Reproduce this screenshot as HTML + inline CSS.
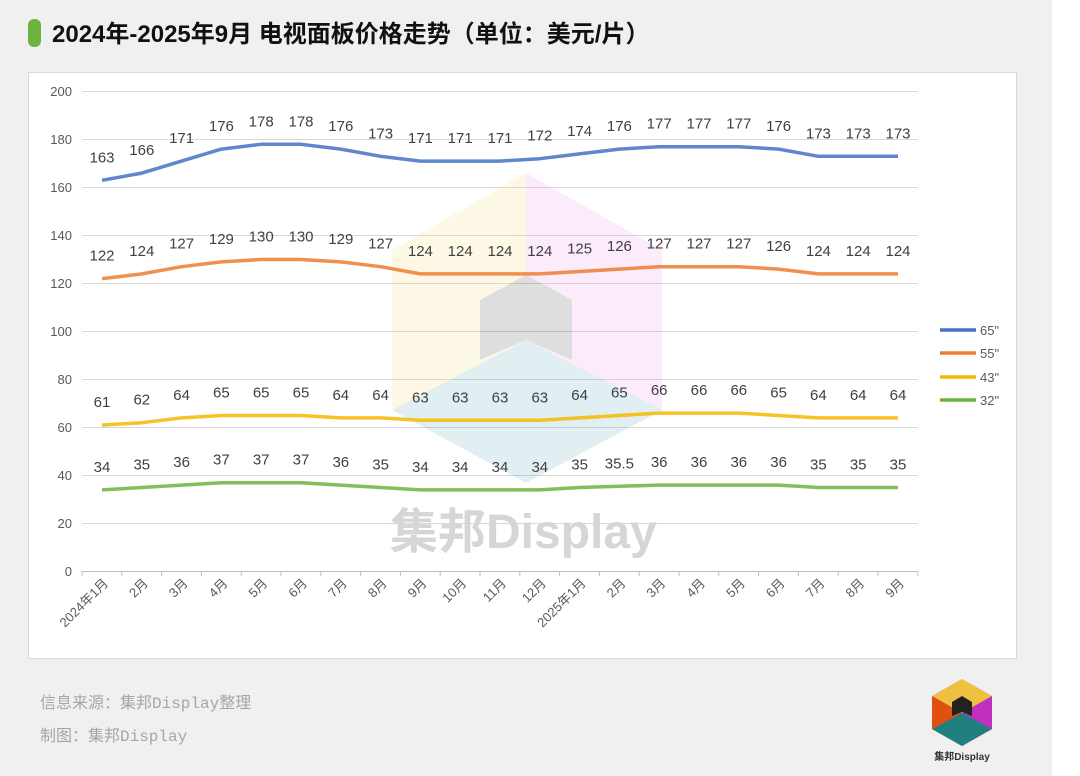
<!DOCTYPE html>
<html><head><meta charset="utf-8"><style>
html,body{margin:0;padding:0;background:#f0f0f0;}
body{width:1080px;height:776px;position:relative;overflow:hidden;font-family:"Liberation Sans","Noto Sans CJK SC",sans-serif;}
</style></head><body>
<div style="position:absolute;left:1052px;top:0;width:28px;height:776px;background:#fff"></div>
<svg width="1080" height="776" style="position:absolute;left:0;top:0" font-family="Liberation Sans, Noto Sans CJK SC, sans-serif">
<rect x="28" y="19" width="13" height="28" rx="6" fill="#6db33f"/>
<text x="52" y="42" font-size="24" font-weight="bold" fill="#111">2024年-2025年9月 电视面板价格走势（单位：美元/片）</text>
<rect x="28.5" y="72.5" width="988" height="586" fill="#fff" stroke="#d9d9d9"/>
<g stroke="#d9d9d9" stroke-width="1">
<line x1="82" y1="91.5" x2="918" y2="91.5"/><line x1="82" y1="139.5" x2="918" y2="139.5"/>
<line x1="82" y1="187.5" x2="918" y2="187.5"/><line x1="82" y1="235.5" x2="918" y2="235.5"/>
<line x1="82" y1="283.5" x2="918" y2="283.5"/><line x1="82" y1="331.5" x2="918" y2="331.5"/>
<line x1="82" y1="379.5" x2="918" y2="379.5"/><line x1="82" y1="427.5" x2="918" y2="427.5"/>
<line x1="82" y1="475.5" x2="918" y2="475.5"/><line x1="82" y1="523.5" x2="918" y2="523.5"/>
<line x1="82" y1="571.5" x2="918" y2="571.5"/>
</g>
<g opacity="0.2">
<polygon points="526,173 662,250 662,410 526,340" fill="#f0a0f0"/>
<polygon points="526,173 392,250 392,410 526,340" fill="#f8e080"/>
<polygon points="392,410 526,483 662,410 526,340" fill="#70b0c0"/>
<polygon points="480,300 526,275 572,300 572,360 526,340 480,360" fill="#606060"/>
</g>
<text x="390" y="548" font-size="48" font-weight="bold" fill="#d6d6d6">集邦Display</text>
<g font-size="13" fill="#595959" text-anchor="end">
<text x="72" y="96">200</text><text x="72" y="144">180</text><text x="72" y="192">160</text>
<text x="72" y="240">140</text><text x="72" y="288">120</text><text x="72" y="336">100</text>
<text x="72" y="384">80</text><text x="72" y="432">60</text><text x="72" y="480">40</text>
<text x="72" y="528">20</text><text x="72" y="576">0</text>
</g>
<g id="g"></g>
<g font-size="13" fill="#595959">
<line x1="940" y1="330" x2="976" y2="330" stroke="#4472c4" stroke-width="3.5"/><text x="980" y="335">65"</text>
<line x1="940" y1="353" x2="976" y2="353" stroke="#ed7d31" stroke-width="3.5"/><text x="980" y="358">55"</text>
<line x1="940" y1="377" x2="976" y2="377" stroke="#f5b800" stroke-width="3.5"/><text x="980" y="382">43"</text>
<line x1="940" y1="400" x2="976" y2="400" stroke="#6db33f" stroke-width="3.5"/><text x="980" y="405">32"</text>
</g>
<text x="40" y="708" font-size="16" fill="#a6a6a6" font-family="Liberation Mono, Noto Sans CJK SC, monospace">信息来源：集邦Display整理</text>
<text x="40" y="741" font-size="16" fill="#a6a6a6" font-family="Liberation Mono, Noto Sans CJK SC, monospace">制图：集邦Display</text>
<g>
<polygon points="962,679 992,696 992,729 962,746 932,729 932,696" fill="#999"/>
<polygon points="962,679 992,696 962,713 932,696" fill="#f0c040"/>
<polygon points="932,696 962,713 962,746 932,729" fill="#e05010"/>
<polygon points="992,696 962,713 962,746 992,729" fill="#c030c0"/>
<polygon points="932,729 962,713 992,729 962,746" fill="#208080"/>
<polygon points="952,702 962,696 972,702 972,716 962,712 952,716" fill="#222"/>
</g>
<text x="962" y="760" font-size="10" font-weight="bold" fill="#333" text-anchor="middle">集邦Display</text>
</svg>
<script>
var d=[[163,166,171,176,178,178,176,173,171,171,171,172,174,176,177,177,177,176,173,173,173],
[122,124,127,129,130,130,129,127,124,124,124,124,125,126,127,127,127,126,124,124,124],
[61,62,64,65,65,65,64,64,63,63,63,63,64,65,66,66,66,65,64,64,64],
[34,35,36,37,37,37,36,35,34,34,34,34,35,35.5,36,36,36,36,35,35,35]];
var c=["#4472c4","#ed7d31","#f5b800","#6db33f"];
var months=["2024年1月","2月","3月","4月","5月","6月","7月","8月","9月","10月","11月","12月","2025年1月","2月","3月","4月","5月","6月","7月","8月","9月"];
var s="";
function X(i){return 102+i*39.8}
function Y(v){return 571.5-v*2.4}
s+='<line x1="82" y1="571.5" x2="918" y2="571.5" stroke="#bfbfbf"/>';
for(var i=0;i<=21;i++){var x=82+i*39.8;s+='<line x1="'+x+'" y1="571" x2="'+x+'" y2="576" stroke="#bfbfbf"/>';}
for(var i=0;i<21;i++){s+='<text transform="translate('+(X(i)+7)+',584) rotate(-45)" text-anchor="end" font-size="13" fill="#595959">'+months[i]+'</text>';}
for(var k=0;k<4;k++){var p="";for(var i=0;i<21;i++){p+=(i?"L":"M")+X(i)+","+Y(d[k][i]);}
s+='<path d="'+p+'" fill="none" stroke="'+c[k]+'" stroke-width="3.5" stroke-linejoin="round" stroke-opacity="0.85"/>';
for(var i=0;i<21;i++){s+='<text x="'+X(i)+'" y="'+(Y(d[k][i])-18)+'" text-anchor="middle" font-size="15" fill="#404040">'+d[k][i]+'</text>';}}
document.getElementById("g").innerHTML=s;
</script>
</body></html>
